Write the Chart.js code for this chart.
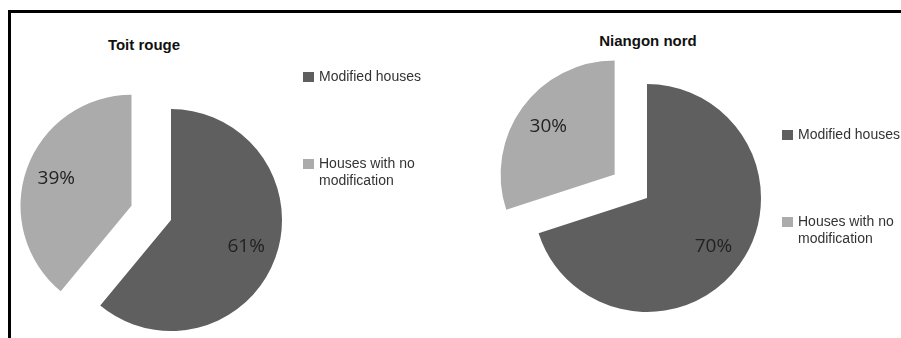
<!DOCTYPE html>
<html>
<head>
<meta charset="utf-8">
<script src="https://cdn.jsdelivr.net/npm/chart.js@4"></script>
<style>
  body { margin: 0; background: #fff; }
  #frame { position: relative; width: 901px; height: 338px; overflow: hidden; background: #fff; }
  .rule { position: absolute; background: #000; }
  canvas { position: absolute; }
  .title { position: absolute; width: 200px; text-align: center; font: bold 15px "Liberation Sans", Arial, sans-serif; line-height: 16px; color: #111; }
  .legend { position: absolute; font: 14px "Liberation Sans", Arial, sans-serif; color: #333; line-height: 17px; }
  .legend .item { position: absolute; left: 0; white-space: nowrap; }
  .legend .box { position: absolute; left: 0; width: 11px; height: 10px; }
  .legend .text { position: absolute; left: 16px; }
</style>
</head>
<body>
<div id="frame">
  <div class="rule" style="left:8px; top:10px; right:0; height:3px;"></div>
  <div class="rule" style="left:8px; top:10px; width:3px; bottom:0;"></div>

  <div class="title" style="left:44px; top:37px;">Toit rouge</div>
  <div class="title" style="left:548px; top:33px;">Niangon nord</div>

  <canvas id="pie-toit" width="320" height="320" style="left:11px; top:60px;"></canvas>
  <canvas id="pie-niangon" width="320" height="320" style="left:487px; top:38px;"></canvas>

  <div class="legend" id="legend-toit" style="left:303px; top:68px;"></div>
  <div class="legend" id="legend-niangon" style="left:782px; top:126px;"></div>
</div>

<script>
const categories = ['Modified houses', 'Houses with no modification'];
const legendLines = [['Modified houses'], ['Houses with no', 'modification']];
const toitRougeShares = [61, 39];
const niangonNordShares = [70, 30];

const sliceColors = ['#5f5f5f', '#ababab'];

// pulls the flagged slices out from the centre along their middle angle
const explodeSlices = {
  id: 'explodeSlices',
  afterDatasetUpdate(chart, args, opts) {
    const dist = opts.distance || [];
    args.meta.data.forEach((arc, i) => {
      const d = dist[i] || 0;
      if (!d) return;
      const mid = (arc.startAngle + arc.endAngle) / 2;
      arc.x += Math.cos(mid) * d;
      arc.y += Math.sin(mid) * d;
    });
  },
};

// percentage text inside each slice
const sliceLabels = {
  id: 'sliceLabels',
  afterDatasetsDraw(chart, args, opts) {
    const ctx = chart.ctx;
    const values = chart.data.datasets[0].data;
    ctx.save();
    ctx.font = '19px "Open Sans", sans-serif';
    ctx.fillStyle = '#222';
    ctx.textAlign = 'center';
    ctx.textBaseline = 'middle';
    chart.getDatasetMeta(0).data.forEach((arc, i) => {
      const mid = (arc.startAngle + arc.endAngle) / 2;
      const r = arc.outerRadius * opts.position;
      ctx.fillText(values[i] + '%', arc.x + Math.cos(mid) * r, arc.y + Math.sin(mid) * r);
    });
    ctx.restore();
  },
};

function makePie(id, values, radius, explode) {
  return new Chart(document.getElementById(id), {
    type: 'pie',
    data: {
      labels: categories,
      datasets: [{
        data: values,
        backgroundColor: sliceColors,
        borderWidth: 0,
      }],
    },
    options: {
      responsive: false,
      animation: false,
      events: [],
      radius: radius,
      layout: { padding: 0 },
      plugins: {
        legend: { display: false },
        tooltip: { enabled: false },
        explodeSlices: { distance: explode },
        sliceLabels: { position: 0.72 },
      },
    },
    plugins: [explodeSlices, sliceLabels],
  });
}

function makeLegend(id, gap) {
  const el = document.getElementById(id);
  categories.forEach((name, i) => {
    const item = document.createElement('div');
    item.className = 'item';
    item.style.top = (i * gap) + 'px';
    item.innerHTML =
      '<div class="box" style="top:4px; background:' + sliceColors[i] + '"></div>' +
      '<div class="text">' + legendLines[i].join('<br>') + '</div>';
    el.appendChild(item);
  });
}

makePie('pie-toit', toitRougeShares, 111, [0, 42]);
makePie('pie-niangon', niangonNordShares, 114, [0, 40]);

makeLegend('legend-toit', 87);
makeLegend('legend-niangon', 87);
</script>
</body>
</html>
